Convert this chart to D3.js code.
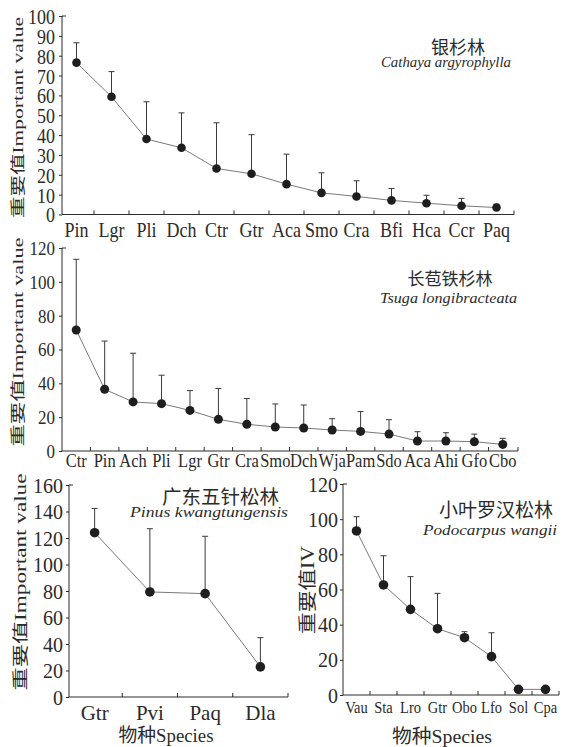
<!DOCTYPE html>
<html><head><meta charset="utf-8">
<script src="https://cdn.jsdelivr.net/npm/d3@7"></script>
<style>
body{margin:0;background:#fff}
svg text{font-family:"Liberation Serif","Noto Sans CJK SC",serif !important;fill:#2b2b2b}
</style>
</head><body>
<svg id="c" width="563" height="747"></svg>
<script>
// ---------- DATA ----------
const cats1 = ["Pin","Lgr","Pli","Dch","Ctr","Gtr","Aca","Smo","Cra","Bfi","Hca","Ccr","Paq"];
const vals1 = [76.5,59.3,38,33.6,23.2,20.5,15.3,10.9,9.1,7.1,5.7,4.4,3.5];
const sd1   = [10,12.7,18.8,17.6,23,19.7,15.1,10.1,7.9,6,4,3.7,1.7];
const ticks1 = [0,10,20,30,40,50,60,70,80,90,100];

const cats2 = ["Ctr","Pin","Ach","Pli","Lgr","Gtr","Cra","Smo","Dch","Wja","Pam","Sdo","Aca","Ahi","Gfo","Cbo"];
const vals2 = [71.5,36.5,29,28,24,18.7,15.8,14.2,13.6,12.4,11.6,10,5.9,5.9,5.5,3.9];
const sd2   = [41.8,28.5,28.8,16.8,11.7,18.3,15.2,13.6,13.6,6.7,11.7,8.5,5.5,4.9,4.5,3.6];
const ticks2 = [0,20,40,60,80,100,120];

const cats3 = ["Gtr","Pvi","Paq","Dla"];
const vals3 = [124,79.3,78,22.7];
const sd3   = [18.3,47.7,43.3,22.1];
const ticks3 = [0,20,40,60,80,100,120,140,160];

const cats4 = ["Vau","Sta","Lro","Gtr","Obo","Lfo","Sol","Cpa"];
const vals4 = [93.3,62.6,48.7,37.7,32.6,21.8,3.2,3.2];
const sd4   = [8.1,16.6,18.6,20.1,3.4,13.6,0,0];
const ticks4 = [0,20,40,60,80,100,120];

const titles = [
  {cn:"银杉林", en:"Cathaya argyrophylla"},
  {cn:"长苞铁杉林", en:"Tsuga longibracteata"},
  {cn:"广东五针松林", en:"Pinus kwangtungensis"},
  {cn:"小叶罗汉松林", en:"Podocarpus wangii"}
];
const yTitleCN = "重要值", yTitleEN = "Important value", yTitleIV = "IV";
const xTitle = "物种Species";

// ---------- LAYOUT ----------
const svg = d3.select("#c");
const INK = "#2b2b2b";
const FONT = '"Liberation Serif","Noto Sans CJK SC",serif';

const panels = [
  {cats:cats1, vals:vals1, sd:sd1, ticks:ticks1, ymax:100,
   bx0:59, bx1:514, ax:62, axEnd:514, y0:214.5, yTop:16, tp:4, tfs:18, tsy:1.22,
   xfs:18, xsy:1.22, xBase:237, r:4.3,
   yl:{x:23, y:117.5, L:201, fs:15, iv:false},
   t:{cnx:458, cny:54, cnfs:18, cnAnchor:"middle", enx:511, eny:67, enL:130}},
  {cats:cats2, vals:vals2, sd:sd2, ticks:ticks2, ymax:120,
   bx0:62, bx1:517, ax:62, axEnd:518, y0:451, yTop:248, tp:4, tfs:17, tsy:1.12,
   xfs:16.5, xsy:1.15, xBase:467, r:4.5,
   yl:{x:23, y:342, L:209, fs:15, iv:false},
   t:{cnx:450, cny:285, cnfs:17, cnAnchor:"middle", enx:517, eny:303, enL:137}},
  {cats:cats3, vals:vals3, sd:sd3, ticks:ticks3, ymax:160,
   bx0:67, bx1:288, ax:69, axEnd:288, y0:697, yTop:485, tp:3, tfs:20, tsy:1.05,
   xfs:21, xsy:1.0, xBase:720, r:4.8,
   yl:{x:26, y:582, L:217, fs:16, iv:false},
   t:{cnx:279, cny:504, cnfs:19.5, cnAnchor:"end", enx:288, eny:517, enL:158},
   xt:{x:166, y:742, L:95}},
  {cats:cats4, vals:vals4, sd:sd4, ticks:ticks4, ymax:120,
   bx0:343, bx1:559, ax:343, axEnd:559, y0:695, yTop:484, tp:2, tfs:20, tsy:1.05,
   xfs:14.5, xsy:1.2, xBase:713, r:4.8,
   yl:{x:314, y:590, L:88, fs:18, iv:true},
   t:{cnx:553, cny:517, cnfs:19, cnAnchor:"end", enx:557, eny:535, enL:134},
   xt:{x:442, y:743, L:100}}
];

panels.forEach((p, i) => {
  const g = svg.append("g").attr("font-family", FONT);
  const x = d3.scaleBand().domain(p.cats).range([p.bx0, p.bx1]);
  const y = d3.scaleLinear().domain([0, p.ymax]).range([p.y0, p.yTop]);

  // Y axis
  const ya = g.append("g").attr("transform", `translate(${p.ax},0)`)
    .call(d3.axisLeft(y).tickValues(p.ticks).tickSize(3).tickSizeOuter(0)
      .tickPadding(p.tp).tickFormat(d3.format("d")));
  ya.attr("font-family", FONT);
  ya.select(".domain").remove();
  ya.selectAll(".tick line").attr("stroke", INK);
  ya.selectAll(".tick text").attr("dy", "0.34em").style("font-size", p.tfs + "px")
    .style("font-family", FONT)
    .attr("transform", `scale(1,${p.tsy})`);
  ya.append("line").attr("x1", 0).attr("x2", 0).attr("y1", y(0)).attr("y2", y(p.ymax))
    .attr("stroke", INK);
  ya.append("line").attr("x1", 0).attr("x2", 4).attr("y1", y(p.ymax)).attr("y2", y(p.ymax))
    .attr("stroke", INK);

  // X axis
  const xa = g.append("g").attr("transform", `translate(0,${p.y0})`)
    .call(d3.axisBottom(x).tickSize(0));
  xa.attr("font-family", FONT);
  xa.select(".domain").remove();
  xa.selectAll(".tick text").attr("dy", 0)
    .attr("y", (p.xBase - p.y0) / p.xsy)
    .style("font-size", p.xfs + "px")
    .style("font-family", FONT)
    .attr("transform", `scale(1,${p.xsy})`);
  xa.append("line").attr("x1", p.ax).attr("x2", p.axEnd).attr("y1", 0).attr("y2", 0)
    .attr("stroke", INK);
  const bnd = p.cats.map(c => x(c) + x.step()).filter(v => v <= p.axEnd + 0.5);
  bnd[bnd.length - 1] = p.axEnd;
  xa.selectAll(".bt").data(bnd).join("line").attr("class", "bt")
    .attr("x1", d => d).attr("x2", d => d).attr("y1", 0).attr("y2", -4)
    .attr("stroke", INK);

  const cx = c => x(c) + x.bandwidth() / 2;
  const pts = p.cats.map((c, k) => ({c, v: p.vals[k], s: p.sd[k]}));

  // connecting line
  g.append("path").datum(pts)
    .attr("d", d3.line().x(d => cx(d.c)).y(d => y(d.v)))
    .attr("fill", "none").attr("stroke", "#7a7a7a").attr("stroke-width", 1);

  // error bars (upper only)
  const eb = g.selectAll(".eb").data(pts.filter(d => d.s > 0)).join("g");
  eb.append("line").attr("x1", d => cx(d.c)).attr("x2", d => cx(d.c))
    .attr("y1", d => y(d.v)).attr("y2", d => y(d.v + d.s))
    .attr("stroke", "#3a3a3a").attr("stroke-width", 1);
  eb.append("line").attr("x1", d => cx(d.c) - 3).attr("x2", d => cx(d.c) + 3)
    .attr("y1", d => y(d.v + d.s)).attr("y2", d => y(d.v + d.s))
    .attr("stroke", "#3a3a3a").attr("stroke-width", 1);

  // markers
  g.selectAll(".mk").data(pts).join("circle")
    .attr("cx", d => cx(d.c)).attr("cy", d => y(d.v)).attr("r", p.r)
    .attr("fill", "#1e1e1e");

  // Y title
  const yl = g.append("text")
    .attr("transform", `translate(${p.yl.x},${p.yl.y}) rotate(-90)`)
    .attr("text-anchor", "middle").style("font-size", p.yl.fs + "px")
    .style("font-family", FONT)
    .attr("textLength", p.yl.L).attr("lengthAdjust", "spacingAndGlyphs");
  yl.append("tspan").text(yTitleCN);
  yl.append("tspan").text(p.yl.iv ? yTitleIV : yTitleEN);

  // Panel titles
  g.append("text").attr("x", p.t.cnx).attr("y", p.t.cny)
    .attr("text-anchor", p.t.cnAnchor).style("font-size", p.t.cnfs + "px")
    .style("font-family", FONT)
    .text(titles[i].cn);
  g.append("text").attr("x", p.t.enx).attr("y", p.t.eny)
    .attr("text-anchor", "end").style("font-size", "14px").style("font-style", "italic")
    .style("font-family", FONT)
    .attr("textLength", p.t.enL).attr("lengthAdjust", "spacingAndGlyphs")
    .text(titles[i].en);

  if (p.xt) {
    g.append("text").attr("x", p.xt.x).attr("y", p.xt.y)
      .attr("text-anchor", "middle").style("font-size", "19px")
      .style("font-family", FONT)
      .attr("textLength", p.xt.L).attr("lengthAdjust", "spacingAndGlyphs")
      .text(xTitle);
  }
});
</script>
</body></html>
